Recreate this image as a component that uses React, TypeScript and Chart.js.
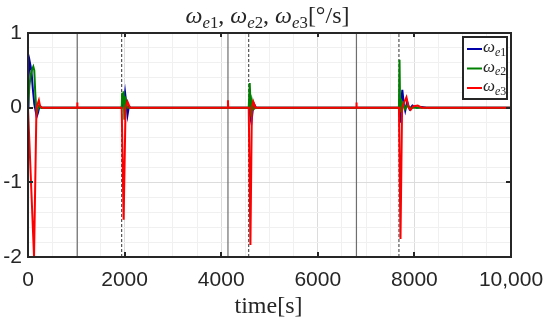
import React, { useEffect, useRef } from "react";
import { Chart, registerables } from "chart.js";

Chart.register(...registerables);

// ---- data ----
const e1Time = [0, 10, 35, 70, 100, 130, 180, 210, 240, 280, 1940, 1960, 1985, 2010, 2035, 2060, 2090, 2120, 4570, 4590, 4610, 4625, 4650, 4680, 4720, 4760, 7680, 7695, 7710, 7730, 7750, 7780, 7810, 7850, 7900, 7960, 8050, 8150, 8250, 10000];
const e1Values = [0, 0.4, 0.62, 0.5, 0.25, 0.05, -0.12, -0.06, 0.03, 0, 0, 0.1, 0.05, 0.2, 0.05, -0.1, 0.02, 0, 0, -0.05, -0.15, -0.2, -0.05, 0.05, 0, 0, 0, 0.05, -0.2, 0.1, 0.24, 0.05, -0.04, 0.08, -0.02, 0.03, 0, 0.01, 0, 0];

const e2Time = [0, 30, 60, 90, 110, 130, 150, 170, 190, 220, 260, 1940, 1950, 1965, 1980, 1995, 2010, 2030, 2060, 2100, 4570, 4590, 4605, 4620, 4640, 4670, 4710, 7680, 7692, 7705, 7720, 7740, 7770, 7800, 7850, 7900, 7950, 10000];
const e2Values = [0, 0.3, 0.45, 0.52, 0.55, 0.5, 0.2, 0, -0.05, 0.02, 0, 0, 0.2, 0.05, 0.22, -0.16, 0.15, 0.05, 0, 0, 0, 0.33, 0.1, -0.12, 0.08, -0.02, 0, 0, 0.64, -0.05, 0.12, 0.03, 0.06, -0.02, 0.03, 0, 0, 0];

const e3Time = [0, 125, 175, 200, 225, 250, 290, 1015, 1020, 1025, 1940, 1980, 2020, 2060, 2110, 4135, 4140, 4145, 4570, 4605, 4635, 4665, 4710, 6795, 6800, 6805, 7680, 7712, 7745, 7775, 7835, 7880, 7920, 7980, 8070, 8150, 8250, 10000];
const e3Values = [0, -2.0, 0, 0.05, 0.1, 0.02, 0, 0, 0.07, 0, 0, -1.5, 0, 0.08, 0, 0, 0.1, 0, 0, -1.84, 0, 0.08, 0, 0, 0.07, 0, 0, -1.76, 0, 0.05, 0.14, 0, -0.03, 0.02, 0.03, 0, 0, 0];

const solidLineTimes = [1020, 4140, 6800];
const dashedLineTimes = [1940, 4570, 7680];

const xTickValues = [0, 2000, 4000, 6000, 8000, 10000];
const xTickLabels = ["0", "2000", "4000", "6000", "8000", "10,000"];
const yTickValues = [-2, -1, 0, 1];
const yTickLabels = ["-2", "-1", "0", "1"];

const seriesColors = ["#0000a8", "#008000", "#ff0000"];
const seriesIndex = ["1", "2", "3"];
const symbol = "ω";
const subLetter = "e";
const titleUnit = "[°/s]";
const titleSep = ", ";
const xLabelText = "time[s]";

type Part = [string, string];

const SERIF = '"Liberation Serif", "Times New Roman", serif';

function drawMath(ctx: CanvasRenderingContext2D, parts: Part[], x: number, y: number, size: number, align: "center" | "left") {
  const subSize = size * 0.7;
  const fontFor = (k: string) => {
    const italic = k === "i" || k === "si";
    const sz = k === "si" || k === "sr" ? subSize : size;
    return `${italic ? "italic " : ""}${sz}px ${SERIF}`;
  };
  let total = 0;
  for (const [t, k] of parts) {
    ctx.font = fontFor(k);
    total += ctx.measureText(t).width;
  }
  let cx = align === "center" ? x - total / 2 : x;
  ctx.textAlign = "left";
  ctx.textBaseline = "alphabetic";
  for (const [t, k] of parts) {
    ctx.font = fontFor(k);
    const dy = k === "si" || k === "sr" ? size * 0.22 : 0;
    ctx.fillText(t, cx, y + dy);
    cx += ctx.measureText(t).width;
  }
}

const omegaParts = (i: string): Part[] => [[symbol, "i"], [subLetter, "si"], [i, "sr"]];

const overlay = {
  id: "overlay",
  afterDraw(chart: any) {
    const { ctx, chartArea } = chart;
    const { left, right, top, bottom } = chartArea;
    const xs = chart.scales.x;
    const ys = chart.scales.y;
    ctx.save();
    ctx.strokeStyle = "#262626";
    ctx.lineWidth = 2;
    ctx.beginPath();
    for (const v of xTickValues) {
      if (v === xTickValues[0] || v === xTickValues[xTickValues.length - 1]) continue;
      const px = Math.round(xs.getPixelForValue(v));
      ctx.moveTo(px, top);
      ctx.lineTo(px, top + 4);
      ctx.moveTo(px, bottom);
      ctx.lineTo(px, bottom - 5);
    }
    for (const v of yTickValues) {
      if (v === yTickValues[0] || v === yTickValues[yTickValues.length - 1]) continue;
      const py = Math.round(ys.getPixelForValue(v));
      ctx.moveTo(left, py);
      ctx.lineTo(left + 5, py);
      ctx.moveTo(right, py);
      ctx.lineTo(right - 5, py);
    }
    ctx.stroke();
    ctx.strokeRect(left, top, right - left, bottom - top);

    // legend
    const lx0 = 463, ly0 = 37, lw = 44, lh = 62;
    ctx.fillStyle = "#ffffff";
    ctx.fillRect(lx0, ly0, lw, lh);
    ctx.strokeStyle = "#262626";
    ctx.lineWidth = 2;
    ctx.strokeRect(lx0, ly0, lw, lh);
    seriesIndex.forEach((s, i) => {
      const yy = 49 + i * 19.5;
      ctx.strokeStyle = seriesColors[i];
      ctx.lineWidth = 2;
      ctx.beginPath();
      ctx.moveTo(467, yy);
      ctx.lineTo(482, yy);
      ctx.stroke();
      ctx.fillStyle = "#262626";
      drawMath(ctx, omegaParts(s), 483, yy + 3, 17, "left");
    });

    // title
    const titleParts: Part[] = [];
    seriesIndex.forEach((s, i) => {
      titleParts.push(...omegaParts(s));
      if (i < seriesIndex.length - 1) titleParts.push([titleSep, "r"]);
    });
    titleParts.push([titleUnit, "r"]);
    ctx.fillStyle = "#262626";
    drawMath(ctx, titleParts, (left + right) / 2 - 2, 23, 24, "center");

    // x label
    drawMath(ctx, [[xLabelText, "r"]], (left + right) / 2 - 1, 313, 24, "center");
    ctx.restore();
  },
};

const isNear = (v: number, arr: number[]) => arr.findIndex((a) => Math.abs(a - v) < 1e-6);

export default function App() {
  const ref = useRef<HTMLCanvasElement | null>(null);
  useEffect(() => {
    if (!ref.current) return;
    const mk = (t: number[], v: number[]) => t.map((x, i) => ({ x, y: v[i] }));
    const vlines: any[] = [];
    solidLineTimes.forEach((t) =>
      vlines.push({
        data: [{ x: t, y: -2 }, { x: t, y: 1 }],
        borderColor: "#6e6e6e",
        borderWidth: 1.2,
        pointRadius: 0,
        order: 10,
      })
    );
    dashedLineTimes.forEach((t) =>
      vlines.push({
        data: [{ x: t, y: -2 }, { x: t, y: 1 }],
        borderColor: "#333333",
        borderWidth: 1,
        borderDash: [3, 2],
        pointRadius: 0,
        order: 10,
      })
    );
    const series = [
      mk(e1Time, e1Values),
      mk(e2Time, e2Values),
      mk(e3Time, e3Values),
    ].map((d, i) => ({
      data: d,
      borderColor: seriesColors[i],
      borderWidth: 2,
      pointRadius: 0,
      tension: 0,
      order: 3 - i,
    }));
    const chart = new Chart(ref.current, {
      type: "line",
      data: { datasets: [...vlines, ...series] },
      plugins: [overlay],
      options: {
        animation: false,
        responsive: false,
        layout: { padding: { top: 33, right: 39, left: 0, bottom: 0 } },
        plugins: { legend: { display: false }, tooltip: { enabled: false }, title: { display: false } },
        scales: {
          x: {
            type: "linear",
            min: 0,
            max: 10000,
            afterFit: (s: any) => { s.height = 64; s.paddingLeft = 0; s.paddingRight = 0; },
            border: { display: false },
            grid: {
              drawTicks: false,
              color: (c: any) => (isNear(c.tick.value, xTickValues) >= 0 ? "#dcdcdc" : "#f0f0f0"),
            },
            ticks: {
              stepSize: 500,
              autoSkip: false,
              maxRotation: 0,
              padding: 11,
              color: "#262626",
              font: { family: '"Liberation Sans", Arial, sans-serif', size: 21 },
              callback: (v: any) => {
                const i = isNear(Number(v), xTickValues);
                return i >= 0 ? xTickLabels[i] : "";
              },
            },
          },
          y: {
            type: "linear",
            min: -2,
            max: 1,
            afterFit: (s: any) => { s.width = 28; s.paddingTop = 0; s.paddingBottom = 0; },
            border: { display: false },
            grid: {
              drawTicks: false,
              color: (c: any) => (isNear(c.tick.value, yTickValues) >= 0 ? "#dcdcdc" : "#f0f0f0"),
            },
            ticks: {
              stepSize: 0.2,
              autoSkip: false,
              padding: 6,
              color: "#262626",
              font: { family: '"Liberation Sans", Arial, sans-serif', size: 21 },
              callback: (v: any) => {
                const i = isNear(Number(v), yTickValues);
                return i >= 0 ? yTickLabels[i] : "";
              },
            },
          },
        },
      },
    });
    return () => chart.destroy();
  }, []);
  return (
    <div style={{ position: "absolute", left: 0, top: 0, width: 550, height: 321, background: "#fff" }}>
      <canvas ref={ref} width={550} height={321} />
    </div>
  );
}
